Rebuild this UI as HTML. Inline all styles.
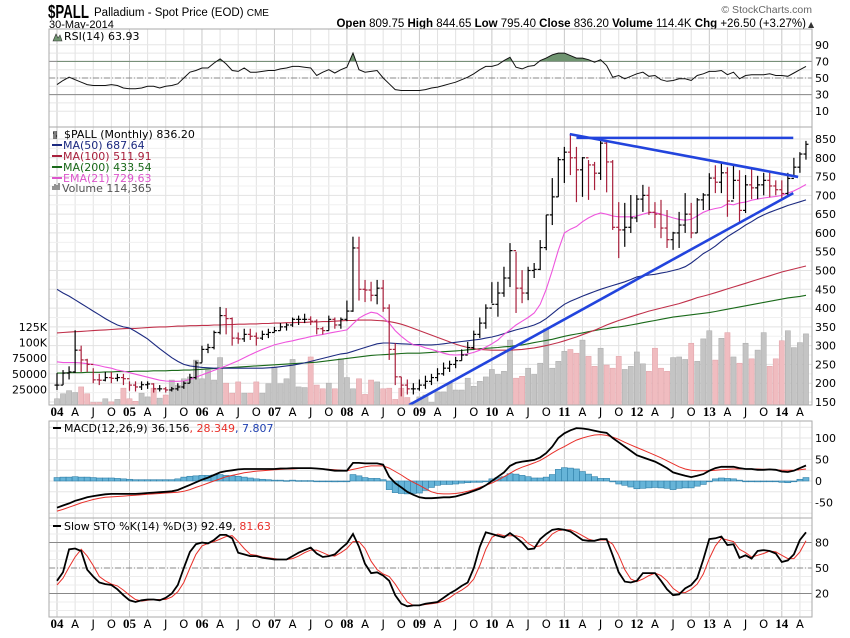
<!DOCTYPE html>
<html><head><meta charset="utf-8"><title>$PALL Palladium chart</title>
<style>
html,body{margin:0;padding:0;background:#fff;}
body{width:850px;height:633px;overflow:hidden;font-family:"Liberation Sans",sans-serif;}
svg text{font-family:"DejaVu Sans","Liberation Sans",sans-serif;}
</style></head>
<body>
<svg id="chart" width="850" height="633" viewBox="0 0 850 633" xmlns="http://www.w3.org/2000/svg">
<defs>
<clipPath id="clipMain"><rect x="49" y="127" width="763" height="278"/></clipPath>
<clipPath id="clipRsiTop"><rect x="49" y="29" width="763" height="33"/></clipPath>
<clipPath id="clipMacd"><rect x="49" y="421" width="763" height="97"/></clipPath>
</defs>
<text x="48" y="18" font-weight="bold" font-size="18" fill="#000" textLength="41" lengthAdjust="spacingAndGlyphs" style="font-family:'Liberation Sans',sans-serif">$PALL</text>
<text x="94" y="16" font-size="11.5" fill="#000" style="font-family:'Liberation Sans',sans-serif">Palladium - Spot Price (EOD) <tspan font-size="10">CME</tspan></text>
<text x="49" y="28" font-size="11" fill="#000" style="font-family:'Liberation Sans',sans-serif">30-May-2014</text>
<text x="812" y="13" font-size="10.5" fill="#666" text-anchor="end" style="font-family:'Liberation Sans',sans-serif">© StockCharts.com</text>
<text x="806" y="27" font-size="11.5" fill="#000" text-anchor="end" style="font-family:'Liberation Sans',sans-serif"><tspan font-weight="bold">Open</tspan> 809.75 <tspan font-weight="bold">High</tspan> 844.65 <tspan font-weight="bold">Low</tspan> 795.40 <tspan font-weight="bold">Close</tspan> 836.20 <tspan font-weight="bold">Volume</tspan> 114.4K <tspan font-weight="bold">Chg</tspan> +26.50 (+3.27%)</text>
<text x="808" y="27" font-size="8" fill="#333">▲</text>
<g id="layer"></g>
</svg>
<script>
const closes=[195,227,230,288,262,250,209,208,215,213,215,212,
195,190,196,198,185,185,182,185,190,200,215,254,
290,295,335,380,372,320,318,330,325,320,330,335,
340,350,355,370,370,370,365,345,340,370,355,370,
392,560,450,448,434,453,400,290,217,195,185,185,
195,205,215,225,240,250,260,275,295,330,360,400,
410,440,480,553,453,440,500,503,561,648,696,795,
815,800,768,800,781,759,839,789,615,608,615,640,
690,700,655,650,613,582,600,621,650,600,688,701,
746,735,760,685,740,660,728,720,728,740,725,715,
705,745,775,810,836];
const highs=[227,235,245,341,300,265,240,225,230,230,225,225,
205,205,205,205,200,195,190,190,200,205,225,260,
300,305,340,403,400,375,335,345,345,335,340,345,
350,360,360,375,380,385,378,370,350,380,375,375,
420,590,590,475,470,475,475,410,307,217,210,200,
210,220,225,240,255,260,270,290,310,340,375,410,
469,470,510,573,550,501,510,520,581,648,746,802,
829,863,829,802,794,789,847,847,794,682,680,701,
701,728,723,682,688,661,603,656,706,680,693,706,
759,780,790,775,780,767,754,770,752,760,760,740,
740,760,800,815,845];
const lows=[182,195,210,227,230,230,200,195,205,200,205,195,
180,178,182,185,175,178,175,178,180,185,200,210,
255,280,290,330,330,300,305,310,315,300,315,320,
335,340,340,350,355,360,355,330,330,340,345,345,
365,390,420,416,418,410,390,262,195,165,170,170,
180,185,195,205,220,230,240,260,280,290,320,345,
413,377,430,456,387,413,421,480,501,554,621,696,
733,754,682,696,688,714,741,708,608,533,563,600,
629,656,648,613,586,560,555,560,600,586,600,661,
661,706,706,643,690,629,653,690,690,700,695,700,
690,700,750,760,795];
const volumesK=[10,18,23,20,29,18,4,4,10,5,9,27,
10,6,19,13,27,11,16,40,32,42,45,72,
42,56,40,76,35,19,37,19,19,37,19,34,
61,34,42,73,29,28,77,32,26,35,26,74,
44,26,42,17,40,37,26,27,9,27,12,4,
13,16,4,21,21,35,24,24,43,30,38,45,
57,49,54,104,43,46,59,49,67,122,59,70,
86,89,83,104,78,62,91,64,59,78,57,62,
85,66,54,91,59,54,76,77,73,99,70,106,
119,72,107,116,77,67,99,74,88,116,62,74,
103,119,92,100,114];
const ma50=[450,440,432,422,412,402,392,382,372,363,355,350,
347,338,328,318,305,292,280,268,258,250,246,244,
242,241,240,240,240,240,240,240,240,240,240,241,
242,244,246,248,251,254,258,262,266,270,274,278,
280,285,290,295,300,305,307,307,306,305,304,303,
303,302,302,303,305,307,309,311,313,315,317,320,
323,327,332,337,342,346,350,355,362,372,385,398,
410,418,425,432,438,444,450,455,460,465,470,476,
483,486,488,490,493,496,500,504,510,520,532,545,
554,565,578,590,600,610,621,630,640,648,655,661,
667,673,678,683,688];
const ma100=[334,335,336,337,338,339,340,341,342,343,344,345,
346,346,347,348,349,350,350,351,352,352,353,353,
354,354,355,355,356,356,357,357,358,358,359,359,
360,360,361,361,362,362,363,363,364,364,365,366,
367,367,368,368,368,367,366,364,361,357,352,346,
340,334,328,322,316,310,304,299,295,292,290,289,
288,288,288,288,289,290,292,294,297,300,304,308,
313,318,323,329,335,341,348,355,361,367,372,377,
382,387,392,396,400,404,408,412,417,422,428,432,
436,441,446,451,456,461,466,471,476,481,486,491,
496,500,504,508,512];
const ma200=[227,227,228,228,228,229,229,229,230,230,231,231,
231,232,232,232,233,233,233,234,234,235,235,236,
237,238,239,240,241,242,243,244,245,246,247,248,
249,250,251,252,253,254,255,256,258,260,262,264,
266,268,270,272,274,275,276,277,278,279,280,280,
280,281,282,283,284,285,286,287,289,290,292,293,
294,295,297,298,300,302,305,308,311,314,317,321,
325,328,331,334,337,340,343,345,348,350,352,355,
358,361,364,367,370,373,376,378,380,382,384,386,
388,391,394,397,400,403,406,409,412,415,418,421,
424,427,429,431,434];
const ema21=[257,255,255,255,254,252,250,247,243,240,235,232,
228,224,220,216,212,208,206,205,205,206,210,216,
222,228,234,240,246,253,260,268,276,283,290,296,
302,306,310,313,317,320,324,327,330,333,336,339,
342,358,373,382,389,386,375,360,340,325,312,302,
300,294,290,285,280,276,275,276,278,282,288,296,
305,315,330,342,355,365,375,387,410,450,500,554,
600,610,617,630,640,648,653,650,645,643,643,643,
645,650,654,654,650,645,640,636,634,636,645,655,
661,665,668,677,675,680,682,687,690,693,695,697,
700,706,712,720,729];
const rsi=[42,47,51,48,45,42,41,41,41,42,41,38,
37,37,38,40,40,38,40,41,43,50,57,59,
62,62,68,73,67,59,58,62,57,57,58,59,
59,61,62,64,64,63,62,53,57,60,56,60,
63,80,60,57,58,59,50,43,36,35,35,35,
35,36,38,39,41,43,45,48,51,55,60,64,
64,66,71,75,63,61,64,65,71,74,78,80,
80,77,74,74,72,69,72,65,51,53,49,52,
55,57,52,53,48,46,47,49,49,47,53,55,
58,58,59,54,57,49,53,54,54,54,55,53,
53,52,56,60,64];
const macdLine=[-62,-57,-52,-46,-42,-38,-35,-33,-31,-30,-30,-30,
-30,-30,-29,-28,-27,-26,-25,-24,-21,-15,-9,-3,
3,8,14,20,23,25,27,28,28,28,28,28,
28,29,29,30,30,30,30,29,28,26,24,24,
24,42,42,41,41,41,38,10,-5,-15,-25,-32,
-38,-40,-40,-39,-38,-38,-36,-32,-28,-23,-18,-10,
0,10,20,35,42,45,47,49,55,65,80,100,
111,118,123,122,120,117,114,112,100,90,80,70,
60,55,50,45,38,30,20,16,12,9,12,16,
24,30,33,33,33,30,28,28,26,26,27,26,
22,21,24,30,36];
const macdSignal=[-70,-66,-61,-56,-51,-47,-43,-40,-38,-37,-36,-35,
-34,-33,-32,-31,-30,-29,-28,-27,-26,-24,-20,-15,
-10,-5,0,5,10,13,16,19,21,23,24,25,
26,27,28,28,29,29,29,29,28,27,26,25,
24,27,30,33,35,35,35,30,22,14,5,-3,
-10,-18,-25,-29,-30,-30,-29,-27,-24,-20,-15,-10,
-5,2,10,18,26,32,37,42,48,56,65,73,
80,88,95,100,104,107,108,106,102,97,90,84,
78,72,66,60,54,47,40,33,28,25,24,24,
24,25,26,27,28,28,28,28,28,27,27,26,
25,25,25,26,28];
const stoK=[35,45,72,73,70,48,40,33,31,30,25,18,
12,10,12,13,13,12,15,20,30,50,69,78,
80,79,83,89,89,85,68,66,64,64,62,61,
60,60,60,64,68,71,74,67,63,64,66,73,
79,90,75,55,44,45,41,35,18,8,5,6,
6,8,9,10,15,20,24,29,33,50,75,92,
90,88,86,91,86,80,72,73,84,90,95,96,
95,93,88,83,82,82,84,84,65,45,34,33,
35,44,44,44,35,25,18,19,26,30,38,60,
84,85,87,77,78,62,65,61,70,71,70,67,
57,59,66,83,92];
const stoD=[30,38,51,63,72,64,53,40,35,31,29,24,
18,13,11,12,13,13,13,16,22,33,50,66,
76,79,81,84,87,88,81,73,66,65,63,62,
61,60,60,61,64,68,71,71,68,65,64,68,
73,81,81,73,58,48,43,40,31,20,10,6,
6,7,8,9,11,15,20,24,29,37,53,72,
86,90,88,88,88,86,79,75,76,82,90,94,
95,95,92,88,84,82,83,83,78,65,48,37,
34,37,41,44,41,35,26,21,21,25,31,43,
61,76,85,83,81,72,68,63,65,67,70,69,
65,61,61,69,82];
const yearLabels=["04","05","06","07","08","09","10","11","12","13","14"];
const monthLetters=["A","J","O"];
const priceTicks=[850,800,750,700,650,600,550,500,450,400,350,300,250,200,150];
const volTicks=[25,50,75,100,125];
const volTickLabels=["25000","50000","75000","100K","125K"];
const rsiTicks=[90,70,50,30,10];
const macdTicks=[100,50,0,-50];
const stoTicks=[80,50,20];
const trendSupport=[[58.3,142],[121.9,706]];
const trendResist=[[84.9,863],[122.7,749]];
const trendTop=[[86,853],[121.9,853]];

const NS="http://www.w3.org/2000/svg";
const L=49,R=812;
const X=i=>57+i*6.04;
const yP=p=>402-(p-150)*0.3757;
const yV=v=>405-v*0.624;
const yR=v=>78-(v-50)*0.83;
const yM=v=>481-v*0.43;
const yS=v=>568-(v-50)*0.85;
const layer=document.getElementById('layer');
function mk(tag,attrs,parent){const e=document.createElementNS(NS,tag);for(const k in attrs)e.setAttribute(k,attrs[k]);(parent||layer).appendChild(e);return e;}
function poly(arr,yf){return arr.map((v,i)=>X(i).toFixed(1)+','+yf(v).toFixed(1)).join(' ');}

const panels=[[29,127,'rsi-panel'],[127,405,'price-panel'],[421,518,'macd-panel'],[518,617,'sto-panel']];
panels.forEach(p=>{
 const r=mk('rect',{x:L,y:p[0],width:R-L,height:p[1]-p[0],fill:'#fff',stroke:'none'});
 
 
});
for(let i=0;i<=124;i+=3){
 const yr=i%12===0;
 [[29,127],[127,405],[421,518],[518,617]].forEach(s=>{
  const g=mk('line',{x1:X(i),x2:X(i),y1:s[0],y2:s[1],stroke:yr?'#c8c8c8':'#e2e2e2','stroke-width':1});
  
  
 });
}
for(let v=10;v<=90;v+=10){const g=mk('line',{x1:L,x2:R,y1:yR(v),y2:yR(v),stroke:'#e6e6e6'});}
priceTicks.forEach(p=>{const y=yP(p);for(let k=0;k<2;k++){const yy=y+k*9.4;if(yy>405)continue;const g=mk('line',{x1:L,x2:R,y1:yy,y2:yy,stroke:k?'#f0f0f0':'#e2e2e2'});}});
for(let v=-75;v<=125;v+=25){const g=mk('line',{x1:L,x2:R,y1:yM(v),y2:yM(v),stroke:'#e6e6e6'});}
for(let v=0;v<=100;v+=10){const g=mk('line',{x1:L,x2:R,y1:yS(v),y2:yS(v),stroke:'#ececec'});}

[[70,'none'],[30,'none'],[50,'6,2,1,2']].forEach(a=>{const g=mk('line',{x1:L,x2:R,y1:yR(a[0]),y2:yR(a[0]),stroke:'#888','stroke-dasharray':a[1]});});
[[80,'none'],[20,'none'],[50,'6,2,1,2']].forEach(a=>{const g=mk('line',{x1:L,x2:R,y1:yS(a[0]),y2:yS(a[0]),stroke:'#888','stroke-dasharray':a[1]});});

const rf=mk('polygon',{points:X(0)+','+yR(70)+' '+poly(rsi,yR)+' '+X(rsi.length-1)+','+yR(70),fill:'#6f9470','clip-path':'url(#clipRsiTop)'});


const rl=mk('polyline',{points:poly(rsi,yR),fill:'none',stroke:'#111','stroke-width':1});



const mg=mk('g',{'clip-path':'url(#clipMain)'});


volumesK.forEach((v,i)=>{
 const down=i>0&&closes[i]<closes[i-1];
 const b=mk('rect',{x:X(i)-2.6,y:yV(v),width:5.2,height:405-yV(v),fill:down?'#f0bcc0':'#c4c4c4',stroke:down?'#e0a0a6':'#aaa','stroke-width':0.5},mg);
 
 
});
[[ma200,'#1a6a1a','ma200-line'],[ma100,'#c0304a','ma100-line'],[ma50,'#1c2a80','ma50-line'],[ema21,'#ee55dd','ema21-line']].forEach(a=>{
 const l=mk('polyline',{points:poly(a[0],yP),fill:'none',stroke:a[1],'stroke-width':1.1},mg);
 
 
});
closes.forEach((c,i)=>{
 const down=i>0&&c<closes[i-1];
 const col=down?'#a8203c':'#000';
 const x=X(i);
 const o=i>0?closes[i-1]:c;
 const g=mk('g',{stroke:col,'stroke-width':1.2},mg);
 
 
 mk('line',{x1:x,x2:x,y1:yP(highs[i]),y2:yP(lows[i])},g);
 mk('line',{x1:x-2.5,x2:x,y1:yP(o),y2:yP(o)},g);
 mk('line',{x1:x,x2:x+2.5,y1:yP(c),y2:yP(c)},g);
});
[[trendSupport,'support-trendline'],[trendResist,'resistance-trendline'],[trendTop,'horizontal-resistance-line']].forEach(a=>{
 const t=mk('line',{x1:X(a[0][0][0]),y1:yP(a[0][0][1]),x2:X(a[0][1][0]),y2:yP(a[0][1][1]),stroke:'#2244dd','stroke-width':2.6},mg);
 
 
});

const hg=mk('g',{'clip-path':'url(#clipMacd)'});


macdLine.forEach((m,i)=>{
 const h=m-macdSignal[i];
 const y0=yM(0),y1=yM(h);
 const b=mk('rect',{x:X(i)-3,y:Math.min(y0,y1),width:6,height:Math.max(Math.abs(y1-y0),0.8),fill:'#66b4d8',stroke:'#2f7fa8','stroke-width':0.6},hg);
 
 
});
const ms=mk('polyline',{points:poly(macdSignal,yM),fill:'none',stroke:'#e8302a','stroke-width':1},hg);


const ml=mk('polyline',{points:poly(macdLine,yM),fill:'none',stroke:'#000','stroke-width':1.8},hg);



const sd=mk('polyline',{points:poly(stoD,yS),fill:'none',stroke:'#e8302a','stroke-width':1});


const sk=mk('polyline',{points:poly(stoK,yS),fill:'none',stroke:'#000','stroke-width':1.8});



panels.forEach(p=>{
 const r=mk('rect',{x:L,y:p[0],width:R-L,height:p[1]-p[0],fill:'none',stroke:'#aaa'});
 
 
});

function rlab(txt,y,name){const t=mk('text',{x:815,y:y+4,'font-size':11,fill:'#000'});t.textContent=txt;}
rsiTicks.forEach(v=>rlab(String(v),yR(v),'rsi-tick-label'));
priceTicks.forEach(v=>rlab(String(v),yP(v),'price-tick-label'));
macdTicks.forEach(v=>rlab(String(v),yM(v),'macd-tick-label'));
stoTicks.forEach(v=>rlab(String(v),yS(v),'sto-tick-label'));
volTicks.forEach((v,k)=>{const t=mk('text',{x:47,y:yV(v)+4,'font-size':11,fill:'#000','text-anchor':'end'});t.textContent=volTickLabels[k];});

[416,628].forEach(yb=>{
 for(let i=0;i<=124;i+=3){
  const m=(i%12)/3;
  const t=mk('text',{x:X(i),y:yb,'text-anchor':'middle','font-size':m===0?13:11.5,'font-weight':m===0?'bold':'normal',fill:'#000'});
  if(m===0)t.setAttribute('style',"font-family:'Liberation Serif',serif");
  t.textContent=m===0?yearLabels[i/12]:monthLetters[m-1];
  
  
 }
});

function leg(x,y,parts,name){const t=mk('text',{x:x,y:y,'font-size':11});parts.forEach(p=>{const s=mk('tspan',{fill:p[1]},t);s.textContent=p[0];});}
leg(64,40,[['RSI(14) 63.93','#000']],'rsi-legend');
const ri=mk('polygon',{points:'53,41 56,34 58,38 60,35 62,41',fill:'#6f9470',stroke:'#333','stroke-width':0.6});


leg(64,138,[['$PALL (Monthly) 836.20','#000']],'price-legend');
const pi=mk('path',{d:'M54,131v8M53,133h1M56,131v8M56,136h1',stroke:'#000','stroke-width':1});


[['MA(50) 687.64','#1c2a80',149,'ma50-legend'],['MA(100) 511.91','#a8203c',160,'ma100-legend'],['MA(200) 433.54','#1a6a1a',171,'ma200-legend'],['EMA(21) 729.63','#dd55cc',182,'ema21-legend']].forEach(a=>{
 const d=mk('line',{x1:52,x2:62,y1:a[2]-4,y2:a[2]-4,stroke:a[1],'stroke-width':2});
 
 
 leg(63,a[2],[[a[0],a[1]]],a[3]);
});
const vi=mk('path',{d:'M53,190v-4M55,190v-6M57,190v-5M59,190v-7',stroke:'#666','stroke-width':1.4});


leg(62,192,[['Volume 114,365','#555']],'volume-legend');
const md=mk('line',{x1:53,x2:61,y1:428,y2:428,stroke:'#000','stroke-width':2});


leg(64,432,[['MACD(12,26,9) 36.156','#000'],[', 28.349','#e8302a'],[', 7.807','#2040b0']],'macd-legend');
const sdl=mk('line',{x1:53,x2:61,y1:526,y2:526,stroke:'#000','stroke-width':2});


leg(64,530,[['Slow STO %K(14) %D(3) 92.49, ','#000'],['81.63','#e8302a']],'sto-legend');
</script>
</body></html>
